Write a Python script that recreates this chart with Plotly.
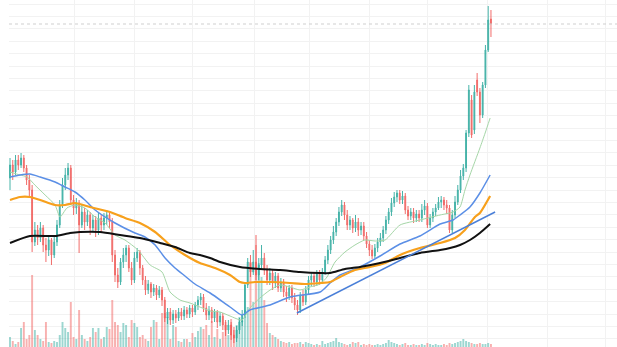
import plotly.graph_objects as go

# ---- OHLC data (one value per candle) ----
opens = [222,235,228,240,235,242,232,220,210,158,
         170,162,172,155,150,160,145,158,175,195,
         215,225,232,200,192,197,175,188,178,185,
         172,180,170,182,175,182,185,178,145,125,
         118,138,145,152,132,120,142,148,132,120,
         110,116,108,112,105,110,100,82,88,80,
         86,82,88,84,90,86,92,88,95,100,
         103,92,85,90,82,88,78,84,75,70,
         75,65,62,70,78,85,115,138,128,138,
         125,135,142,130,120,127,117,124,112,118,
         108,104,112,102,95,90,105,98,110,120,
         124,118,126,120,128,140,150,160,168,178,
         188,195,185,175,180,172,178,170,174,164,
         156,150,144,152,158,162,170,180,188,197,
         203,207,200,204,190,184,188,182,186,182,
         190,194,175,182,188,192,198,200,195,192,
         170,185,198,210,224,232,267,300,270,320,
         308,285,315,350,381]
closes = [235,228,240,235,242,232,220,210,158,170,
          162,172,155,150,160,145,158,175,195,215,
          225,232,200,192,197,175,188,178,185,172,
          180,170,182,175,182,185,178,145,125,118,
          138,145,152,132,120,142,148,132,120,110,
          116,108,112,105,110,100,82,88,80,86,
          82,88,84,90,86,92,88,95,100,103,
          92,85,90,82,88,78,84,75,70,75,
          65,62,70,78,85,115,138,128,138,125,
          135,142,130,120,127,117,124,112,118,108,
          104,112,102,95,90,105,98,110,120,124,
          118,126,120,128,140,150,160,168,178,188,
          195,185,175,180,172,178,170,174,164,156,
          150,144,152,158,162,170,180,188,197,203,
          207,200,204,190,184,188,182,186,182,190,
          194,175,182,188,192,198,200,195,192,170,
          185,198,210,224,232,267,310,265,308,308,
          285,315,350,380,376]
highs = [242,240,245,245,247,245,235,225,215,178,
         175,178,175,162,164,162,164,180,200,222,
         232,237,235,205,202,200,195,192,190,188,
         185,184,188,186,187,190,188,182,150,132,
         142,152,155,155,138,148,152,150,135,124,
         120,118,116,115,114,113,103,92,92,90,
         90,92,92,94,93,95,95,98,104,107,
         106,97,94,93,91,90,88,87,80,80,
         78,70,74,82,90,118,142,145,150,155,
         142,155,147,135,132,130,128,127,122,121,
         114,115,115,107,100,108,110,114,124,128,
         128,130,130,132,144,155,164,174,182,193,
         200,198,190,184,182,185,182,178,178,168,
         160,155,156,162,167,174,184,192,202,208,
         210,210,209,207,194,192,192,190,190,196,
         200,197,186,192,196,203,204,203,200,195,
         190,204,215,230,236,270,315,305,315,327,
         312,318,355,394,390]
lows = [210,220,225,230,232,228,215,202,148,154,
        155,158,148,138,144,135,142,154,172,192,
        210,220,195,185,186,147,172,170,174,165,
        168,163,165,168,170,175,172,138,118,112,
        115,132,138,128,115,117,138,125,115,105,
        106,102,104,100,102,94,78,76,75,76,
        77,79,80,80,82,82,83,85,90,95,
        88,80,80,77,78,72,74,70,64,66,
        60,57,58,66,74,82,112,123,125,120,
        120,130,125,115,115,110,112,108,108,103,
        98,100,97,90,85,87,94,95,106,114,
        113,114,115,116,125,136,146,156,164,174,
        184,180,170,170,167,168,164,165,160,152,
        144,141,142,148,154,158,166,176,184,193,
        198,196,196,186,180,180,177,178,178,178,
        185,172,172,178,184,190,192,190,186,167,
        167,182,195,207,220,228,263,262,266,304,
        277,282,312,348,363]
volumes = [10,6,3,5,19,25,8,12,72,17,
           12,8,6,25,5,4,6,5,12,25,
           19,15,45,10,8,37,12,8,6,10,
           19,15,19,8,10,20,18,47,25,22,
           15,24,22,10,27,24,20,10,12,8,
           6,20,27,25,8,34,34,30,8,22,
           20,6,5,8,8,5,14,10,16,20,
           18,22,12,26,10,18,8,15,25,12,
           28,20,22,30,26,37,40,84,45,112,
           84,70,47,24,14,12,10,8,6,5,
           4,5,3,4,4,5,3,5,4,3,
           2,3,2,6,3,4,5,6,9,5,
           4,3,2,3,5,4,5,2,3,2,
           3,2,2,3,2,3,4,7,5,4,
           3,2,3,4,2,2,3,2,2,3,
           2,4,3,2,3,2,2,3,2,4,
           3,4,5,6,8,6,5,4,3,3,
           4,3,3,4,3]

ma_fast_x = [0,3.6,6.2,9,12.7,16.3,18.1,20.6,23.5,27.1,30.8,34.4,38,41.6,46.3,50.7,55,57.9,61.5,65.1,
             68.7,72.4,76,79.6,83.9,86.8,90.4,94.1,97.7,101.3,104.9,108.5,112.2,114.7,117.6,121.2,124.8,
             128.4,132.1,135.7,141.1,148.3,155.6,160.3,162.8,164.6,166.4,170,171.9,173.7]
ma_fast_y = [228,225,223,215,205,195,183,192,195,192,183,177,165,160,150,135,128,108,100,97,
             93,89,88,84,80,92,102,110,115,113,110,113,116,123,138,148,155,
             160,159,160,175,180,185,188,193,210,225,252,267,282]
ma_mid_x = [0,3.6,7.2,10.9,16.3,19.9,23.5,27.1,30.8,38,45.2,48.8,52.5,56.1,59.7,63.3,66.9,72.4,79.6,83.9,
            86.8,94.1,101.3,112.2,115.8,119.4,126.6,133.9,141.1,148.3,155.6,160.3,162.8,166.4,170,173.7]
ma_mid_y = [223,225,226,223,218,213,208,200,190,177,167,163,155,142,132,124,116,107,93,85,
            90,95,103,108,117,125,133,144,156,164,176,180,185,193,207,225]
ma_slow_x = [0,3.6,7.2,10.9,16.3,19.9,23.5,28.9,36.2,41.6,47,52.5,57.9,63.3,68.7,74.2,79.6,83.2,85,88.6,
             94.1,101.3,106.7,112.2,115.8,119.4,124.8,130.2,135.7,141.1,148.3,155.6,161,164.6,168.2,170,173.7]
ma_slow_y = [200,203,203,200,195,195,197,193,188,182,177,168,155,145,137,132,125,118,117,118,
             118,117,116,117,118,123,130,133,137,145,152,157,162,170,183,187,204]
ma_long_x = [0,7.2,16.3,21.7,25.3,32.6,39.8,47,54.3,59.7,65.1,68.7,72.4,76,83.2,90.4,97.7,104.9,112.2,
             115.8,121.2,126.6,133.9,141.1,148.3,155.6,159.2,162.8,166.4,170,173.7]
ma_long_y = [157,164,164,167,168,168,165,162,157,153,147,145,142,138,133,131,130,128,127,
             127,131,133,137,142,147,150,152,155,160,167,176]
trend_x = [103.8, 175.5]
trend_y = [87, 188]
last_price = 376

grid_x = [-0.1, 23.5, 44.9, 66.2, 88.6, 108.5, 130.2, 151.2, 172.9, 194.3, 215.6]

assert len(opens) == len(closes) == len(highs) == len(lows) == len(volumes)
idx = list(range(len(closes)))

UP = '#26a69a'
DOWN = '#ef5350'
vol_colors = ['rgba(38,166,154,0.45)' if c >= o else 'rgba(239,83,80,0.45)'
              for o, c in zip(opens, closes)]

fig = go.Figure()
fig.add_trace(go.Bar(x=idx, y=volumes, marker_color=vol_colors, marker_line_width=0,
                     xaxis='x', yaxis='y', hoverinfo='skip'))
fig.add_trace(go.Candlestick(
    x=idx, open=opens, high=highs, low=lows, close=closes,
    xaxis='x', yaxis='y2',
    increasing=dict(line=dict(color=UP, width=1), fillcolor=UP),
    decreasing=dict(line=dict(color=DOWN, width=1), fillcolor=DOWN),
    opacity=0.85,
))
fig.add_trace(go.Scatter(x=ma_fast_x, y=ma_fast_y, mode='lines', yaxis='y2',
                         line=dict(color='#a5d6a7', width=1, shape='spline', smoothing=0.6)))
fig.add_trace(go.Scatter(x=ma_mid_x, y=ma_mid_y, mode='lines', yaxis='y2',
                         line=dict(color='#5b8fe6', width=1.5, shape='spline', smoothing=0.6)))
fig.add_trace(go.Scatter(x=ma_slow_x, y=ma_slow_y, mode='lines', yaxis='y2',
                         line=dict(color='#f7a01c', width=2.2, shape='spline', smoothing=0.6)))
fig.add_trace(go.Scatter(x=ma_long_x, y=ma_long_y, mode='lines', yaxis='y2',
                         line=dict(color='#111111', width=2, shape='spline', smoothing=0.6)))
fig.add_trace(go.Scatter(x=trend_x, y=trend_y, mode='lines', yaxis='y2',
                         line=dict(color='#4a7fd8', width=1.5)))

fig.add_shape(type='line', xref='paper', x0=0, x1=1, yref='y2', y0=last_price, y1=last_price,
              line=dict(color='#cfcfcf', width=1, dash='dot'))

fig.update_layout(
    width=617, height=347,
    margin=dict(l=9, r=0, t=0, b=0),
    paper_bgcolor='white', plot_bgcolor='white',
    showlegend=False, hovermode=False,
    bargap=0.3, boxgap=0.55,
    xaxis=dict(range=[-0.36, 219.6], tickvals=grid_x, showticklabels=False,
               showgrid=True, gridcolor='#f2f2f2', gridwidth=1, zeroline=False,
               rangeslider=dict(visible=False), ticks=''),
    yaxis=dict(range=[0, 347], visible=False, showgrid=False, fixedrange=True),
    yaxis2=dict(range=[53, 400], overlaying='y', side='right', tick0=396, dtick=12.4,
                showticklabels=False, showgrid=True, gridcolor='#f2f2f2', gridwidth=1,
                zeroline=False, ticks=''),
)

fig.write_html('out.html')
